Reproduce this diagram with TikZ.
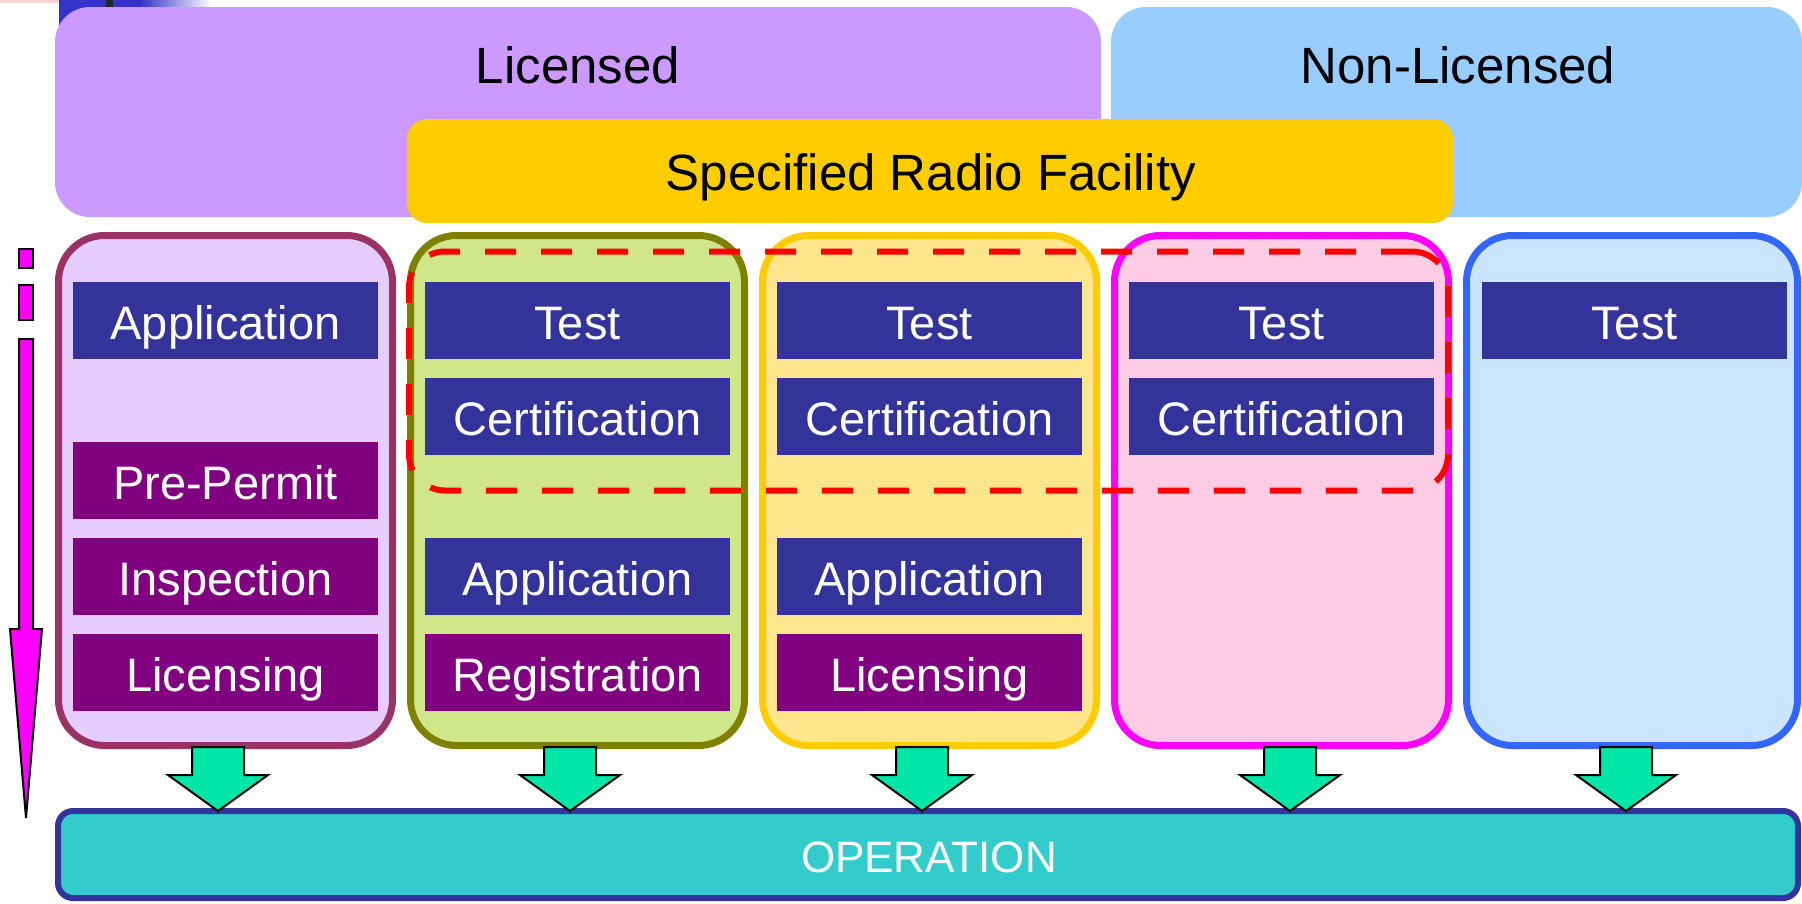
\documentclass[tikz,border=0pt]{standalone}
\usepackage{fontspec}
\setmainfont{Liberation Sans}
\usetikzlibrary{calc}
\definecolor{licC}{HTML}{CC99FF}
\definecolor{nlicC}{HTML}{99CCFF}
\definecolor{srfC}{HTML}{FFCC00}
\definecolor{dblue}{HTML}{333399}
\definecolor{dpurp}{HTML}{800080}
\definecolor{c1fill}{HTML}{E6CCFF}
\definecolor{c1draw}{HTML}{993366}
\definecolor{c2fill}{HTML}{D0E68A}
\definecolor{c2draw}{HTML}{808000}
\definecolor{c3fill}{HTML}{FFE68C}
\definecolor{c3draw}{HTML}{FFCC00}
\definecolor{c4fill}{HTML}{FFCCE6}
\definecolor{c4draw}{HTML}{FF00FF}
\definecolor{c5fill}{HTML}{CCE5FF}
\definecolor{c5draw}{HTML}{3366FF}
\definecolor{garr}{HTML}{00E6A8}
\definecolor{opfill}{HTML}{33CCCC}
\definecolor{decoblue}{HTML}{3333CC}
\definecolor{decopink}{HTML}{FFD0D0}
\definecolor{magarr}{HTML}{FF00FF}
\definecolor{dashred}{HTML}{FF0000}
\begin{document}
\begin{tikzpicture}[x=1pt,y=-1pt,
  boxb/.style={rectangle, inner sep=0pt, minimum width=305pt, minimum height=77pt,
    text height=38pt, text depth=0pt, font=\fontsize{47}{56}\selectfont, text=white},
  bluebox/.style={boxb, fill=dblue},
  purpbox/.style={boxb, fill=dpurp},
  colbox/.style={rectangle, rounded corners=46pt, line width=7pt,
    minimum width=334pt, minimum height=510pt, inner sep=0pt},
  titletext/.style={inner sep=0pt, anchor=base, font=\fontsize{51}{60}\selectfont, text=black},
  garrow/.style={fill=garr, draw=black, line width=2pt, line join=miter},
  marrow/.style={fill=magarr, draw=black, line width=2pt, line join=miter},
]
\useasboundingbox (0,0) rectangle (1802,903);
\fill[white] (0,0) rectangle (1802,903);

% top-left slide decoration
\fill[decopink] (0,0) rectangle (91,3);
\fill[decoblue] (59,0) rectangle (140,40);
\shade[left color=decoblue, right color=white] (140,0) rectangle (212,7);
\fill[black!85] (106,0) rectangle (113,7);

% header boxes
\node[fill=licC, rounded corners=35pt, minimum width=1046pt, minimum height=210pt, inner sep=0pt] (lic) at (578,112) {};
\node[fill=nlicC, rounded corners=35pt, minimum width=691pt, minimum height=210pt, inner sep=0pt] (nlic) at (1456.5,112) {};
\node[titletext] (lictext) at (578,83) {Licensed};
\node[titletext] (nlictext) at (1458,83) {Non-Licensed};
\node[fill=srfC, rounded corners=20pt, minimum width=1046pt, minimum height=104pt, inner sep=0pt] (srf) at (930,171) {};
\node[titletext] (srftext) at (931,190) {Specified Radio Facility};

% columns
\node[colbox, fill=c1fill, draw=c1draw] (col1) at (225.5,490.5) {};
\node[colbox, fill=c2fill, draw=c2draw] (col2) at (577.5,490.5) {};
\node[colbox, fill=c3fill, draw=c3draw] (col3) at (929.5,490.5) {};
\node[colbox, fill=c4fill, draw=c4draw] (col4) at (1281.5,490.5) {};
\node[colbox, fill=c5fill, draw=c5draw, minimum width=331pt] (col5) at (1632,490.5) {};

% dashed region
\node[draw=dashred, line width=6pt, dash pattern=on 31pt off 25pt, rounded corners=36pt,
      minimum width=1039pt, minimum height=239pt, inner sep=0pt] (certzone) at (928.5,371) {};

% column 1
\node[bluebox] (a1) at (225.5,320.5) {Application};
\node[purpbox] (p1) at (225.5,480.5) {Pre-Permit};
\node[purpbox] (i1) at (225.5,576.5) {Inspection};
\node[purpbox] (l1) at (225.5,672.5) {Licensing};
% column 2
\node[bluebox] (t2) at (577.5,320.5) {Test};
\node[bluebox] (c2) at (577.5,416.5) {Certification};
\node[bluebox] (a2) at (577.5,576.5) {Application};
\node[purpbox] (r2) at (577.5,672.5) {Registration};
% column 3
\node[bluebox] (t3) at (929.5,320.5) {Test};
\node[bluebox] (c3) at (929.5,416.5) {Certification};
\node[bluebox] (a3) at (929.5,576.5) {Application};
\node[purpbox] (l3) at (929.5,672.5) {Licensing};
% column 4
\node[bluebox] (t4) at (1281.5,320.5) {Test};
\node[bluebox] (c4) at (1281.5,416.5) {Certification};
% column 5
\node[bluebox] (t5) at (1634.5,320.5) {Test};

% operation bar
\node[fill=opfill, draw=dblue, line width=6pt, rounded corners=15pt,
      minimum width=1740pt, minimum height=87pt, inner sep=0pt] (op) at (928,854.5) {};
\node[inner sep=0pt, anchor=base, text=white, font=\fontsize{44}{52}\selectfont] (optext) at (929,872) {OPERATION};

% green block arrows from columns to operation
\foreach \n/\cx in {1/218,2/570,3/922,4/1290,5/1626}{
  \coordinate (tip\n) at (\cx,811);
  \draw[garrow] ($(tip\n)+(-26,-64)$) -- ($(tip\n)+(26,-64)$) -- ($(tip\n)+(26,-36)$)
     -- ($(tip\n)+(50,-36)$) -- (tip\n) -- ($(tip\n)+(-50,-36)$) -- ($(tip\n)+(-26,-36)$) -- cycle;
}

% magenta process arrow on the left
\draw[marrow] (19,249) rectangle (33,268);
\draw[marrow] (19,285) rectangle (33,320);
\coordinate (mtip) at (26,818);
\draw[marrow] (19,339) -- (33,339) -- (33,629) -- (42,629) -- (mtip) -- (10,629) -- (19,629) -- cycle;
\end{tikzpicture}
\end{document}
